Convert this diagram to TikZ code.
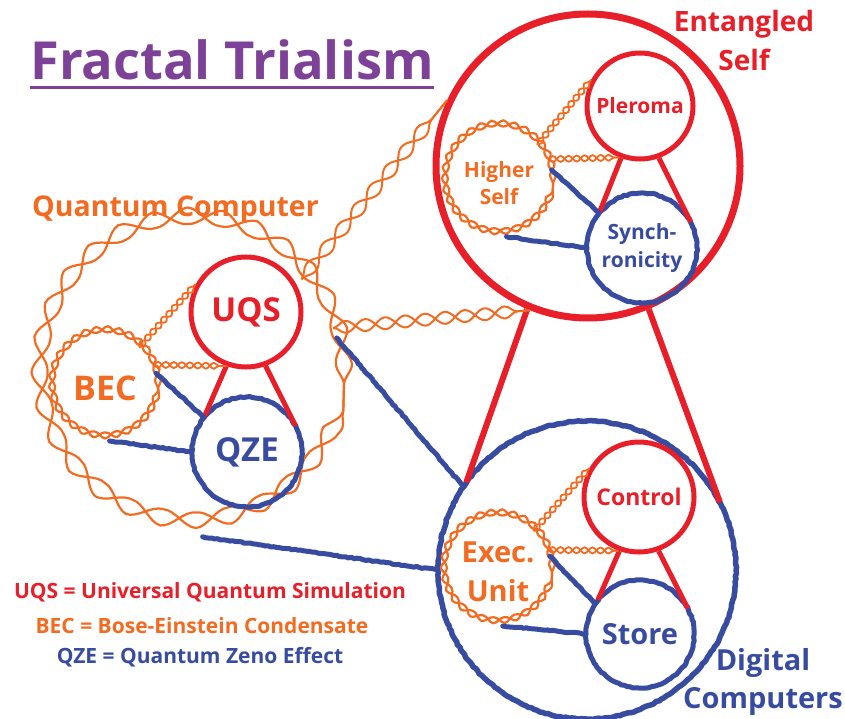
\documentclass[tikz,border=0pt]{standalone}
\usepackage{fontspec}
\setmainfont{Open Sans}
\usetikzlibrary{decorations.pathmorphing}

\definecolor{qred}{RGB}{232,30,40}
\definecolor{qorange}{RGB}{242,107,33}
\definecolor{qblue}{RGB}{55,75,160}
\definecolor{qpurple}{RGB}{125,65,152}

\tikzset{
  ball/.style={circle, inner sep=0pt, minimum size=#1, align=center},
  redball/.style={ball=#1, draw=qred, line width=5pt, text=qred},
  orangeball/.style={ball=#1, text=qorange},
  blueball/.style={ball=#1, text=qblue},
  leg/.style={qred, line width=5pt},
  rough/.style={qblue, line width=5pt, line join=round, line cap=round, decorate,
    decoration={random steps, segment length=3pt, amplitude=0.6pt}},
  helix/.style={qorange, line width=1.8pt, decorate,
    decoration={snake, amplitude=3pt, segment length=16pt}},
  helixm/.style={helix, decoration={mirror}},
  bighelix/.style={qorange, line width=2pt, decorate,
    decoration={snake, amplitude=6pt, segment length=50pt}},
  bighelixm/.style={bighelix, decoration={mirror}},
  ring/.style={qorange, line width=2.2pt, decorate,
    decoration={snake, amplitude=3pt, segment length=22.6pt}},
  ringm/.style={ring, decoration={mirror}},
  bigring/.style={qorange, line width=2.2pt, decorate,
    decoration={snake, amplitude=8pt, segment length=68.2pt}},
  bigringm/.style={bigring, decoration={mirror}},
}

\begin{document}
\begin{tikzpicture}[x=1pt, y=-1pt]
\pgfmathsetseed{7}
\useasboundingbox (0,0) rectangle (845,719);

% title
\node[anchor=base west, inner sep=0pt, text=qpurple, font=\fontsize{52.5}{52.5}\selectfont\bfseries] (ttl) at (30,80) {Fractal Trialism};
\draw[qpurple, line width=3pt] ([yshift=-8pt]ttl.base west) -- ([yshift=-8pt]ttl.base east);

% entangled self
\node[redball=304pt, line width=7pt] (es) at (588,166) {};
\node[anchor=north, inner sep=0pt, align=center, text=qred, font=\fontsize{28}{39}\selectfont\bfseries] (esl) at (744,10) {Entangled\\Self};
\node[redball=106pt, font=\fontsize{21}{27}\selectfont\bfseries] (ple) at (640,106) {Pleroma};
\node[orangeball=108pt, font=\fontsize{21}{27}\selectfont\bfseries] (hs) at (499,183) {Higher\\Self};
\node[blueball=110pt, font=\fontsize{21}{28}\selectfont\bfseries] (syn) at (642,248) {Synch-\\ronicity};
\draw[ring] (hs.center) circle (54pt);
\draw[ringm] (hs.center) circle (54pt);
\draw[rough] (syn.center) circle (55pt);

% quantum computer
\node[ball=304pt] (qc) at (192,385) {};
\node[anchor=base west, inner sep=0pt, text=qorange, font=\fontsize{28.5}{28.5}\selectfont\bfseries] (qcl) at (32,217) {Quantum Computer};
\draw[bigring] (qc.center) circle (152pt);
\draw[bigringm] (qc.center) circle (152pt);
\node[redball=110pt, font=\fontsize{33}{33}\selectfont\bfseries] (uqs) at (246,312) {UQS};
\node[orangeball=106pt, font=\fontsize{34}{34}\selectfont\bfseries] (bec) at (105,388) {BEC};
\node[blueball=110pt, font=\fontsize{33}{33}\selectfont\bfseries] (qze) at (247,452) {QZE};
\draw[ring] (bec.center) circle (53pt);
\draw[ringm] (bec.center) circle (53pt);
\draw[rough] (qze.center) circle (55pt);

% digital computers
\node[ball=298pt] (dc) at (587,570) {};
\node[anchor=north, inner sep=0pt, align=center, text=qblue, font=\fontsize{29}{38}\selectfont\bfseries] (dcl) at (763,648) {Digital\\Computers};
\draw[rough, line width=5.5pt] (dc.center) circle (149pt);
\node[redball=110pt, font=\fontsize{23}{23}\selectfont\bfseries] (ctl) at (639,497) {Control};
\node[orangeball=108pt, font=\fontsize{29}{39}\selectfont\bfseries] (eu) at (498,572) {Exec.\\Unit};
\node[blueball=108pt, font=\fontsize{29}{29}\selectfont\bfseries] (sto) at (640,634) {Store};
\draw[ring] (eu.center) circle (54pt);
\draw[ringm] (eu.center) circle (54pt);
\draw[rough] (sto.center) circle (54pt);

% red legs
\draw[leg] (ple.250) -- (syn.141);
\draw[leg] (ple.290) -- (syn.28);
\draw[leg] (uqs.250) -- (qze.141);
\draw[leg] (uqs.290) -- (qze.28);
\draw[leg] (ctl.250) -- (sto.141);
\draw[leg] (ctl.290) -- (sto.28);
\draw[leg, line width=6pt] (es.247) -- (dc.144);
\draw[leg, line width=6pt] (es.293) -- (dc.27);

% twisted links
\draw[helix] (hs.45) -- (ple.152);
\draw[helixm] (hs.45) -- (ple.152);
\draw[helix] (hs.26) -- (ple.248);
\draw[helixm] (hs.26) -- (ple.248);
\draw[helix] (bec.50) -- (uqs.151);
\draw[helixm] (bec.50) -- (uqs.151);
\draw[helix] (bec.26) -- (uqs.250);
\draw[helixm] (bec.26) -- (uqs.250);
\draw[helix] (eu.49) -- (ctl.150);
\draw[helixm] (eu.49) -- (ctl.150);
\draw[helix] (eu.24) -- (ctl.249);
\draw[helixm] (eu.24) -- (ctl.249);
\draw[bighelix] (qc.44) -- (es.155);
\draw[bighelixm] (qc.44) -- (es.155);
\draw[bighelix, decoration={segment length=40pt}] (qc.22) -- (es.248);
\draw[bighelixm, decoration={segment length=40pt}] (qc.22) -- (es.248);

% blue links
\draw[rough] (hs.14) -- (syn.141);
\draw[rough] (hs.278) -- (syn.180);
\draw[rough] (bec.16) -- (qze.141);
\draw[rough] (bec.275) -- (qze.180);
\draw[rough] (eu.17) -- (sto.146);
\draw[rough] (eu.275) -- (sto.180);
\draw[rough] (qc.18) -- (dc.146);
\draw[rough] (qc.274) -- (dc.180);

% legend
\node[anchor=base, text=qred, font=\fontsize{21}{21}\selectfont\bfseries] (lguqs) at (210,598) {UQS = Universal Quantum Simulation};
\node[anchor=base, text=qorange, font=\fontsize{21}{21}\selectfont\bfseries] (lgbec) at (202,633) {BEC = Bose-Einstein Condensate};
\node[anchor=base, text=qblue, font=\fontsize{21}{21}\selectfont\bfseries] (lgqze) at (200,663) {QZE = Quantum Zeno Effect};

\end{tikzpicture}
\end{document}
